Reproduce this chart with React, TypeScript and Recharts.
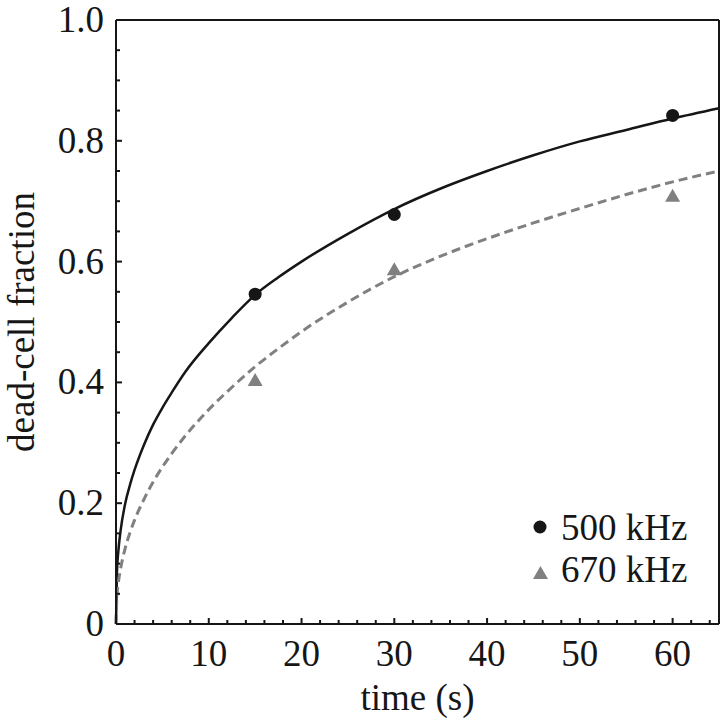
import { ComposedChart, Line, Scatter, XAxis, YAxis, Legend } from "recharts";

// fitted curves
const fitTime = [0, 0.1, 0.25, 0.5, 1, 1.5, 2, 3, 4, 5, 6, 7.5, 10, 12.5, 15, 17.5, 20, 25, 30, 35, 40, 45, 50, 55, 60, 65];
const fit500 = [0, 0.085, 0.12, 0.155, 0.2, 0.23, 0.255, 0.296, 0.33, 0.358, 0.383, 0.418, 0.465, 0.507, 0.545, 0.574, 0.6, 0.646, 0.687, 0.721, 0.75, 0.776, 0.799, 0.818, 0.837, 0.854];
const fit670 = [0, 0.045, 0.068, 0.092, 0.126, 0.151, 0.172, 0.206, 0.235, 0.26, 0.282, 0.312, 0.355, 0.392, 0.426, 0.456, 0.484, 0.533, 0.575, 0.609, 0.638, 0.664, 0.688, 0.711, 0.732, 0.75];

// measured points
const sampleTime = [15, 30, 60];
const measured500 = [0.546, 0.678, 0.842];
const measured670 = [0.405, 0.588, 0.71];
const seriesNames = ["500 kHz", "670 kHz"];

const xTicks = [0, 2, 4, 6, 8, 10, 12, 14, 16, 18, 20, 22, 24, 26, 28, 30, 32, 34, 36, 38, 40, 42, 44, 46, 48, 50, 52, 54, 56, 58, 60, 62, 64];
const yTicks = [0, 0.05, 0.1, 0.15, 0.2, 0.25, 0.3, 0.35, 0.4, 0.45, 0.5, 0.55, 0.6, 0.65, 0.7, 0.75, 0.8, 0.85, 0.9, 0.95, 1];

const INK = "#161616";
const GREY = "#808080";
const FONT = "'Liberation Serif', 'DejaVu Serif', serif";
const FS = 37;

const curve500 = fitTime.map((t, i) => ({ t, v: fit500[i] }));
const curve670 = fitTime.map((t, i) => ({ t, v: fit670[i] }));
const points500 = sampleTime.map((t, i) => ({ t, v: measured500[i] }));
const points670 = sampleTime.map((t, i) => ({ t, v: measured670[i] }));

const isMajor = (v: number, step: number) => Math.abs(v / step - Math.round(v / step)) < 1e-6;

const drawCircle = (cx: number, cy: number) => <circle cx={cx} cy={cy} r={6.5} fill={INK} />;
const drawTriangle = (cx: number, cy: number) => (
  <polygon points={`${cx},${cy - 6.5} ${cx - 7.5},${cy + 6.5} ${cx + 7.5},${cy + 6.5}`} fill={GREY} />
);

const BottomTick = ({ x, y, payload }: any) => {
  const major = isMajor(payload.value, 10);
  return (
    <g>
      <line x1={x} x2={x} y1={y} y2={y - (major ? 6 : 4)} stroke={INK} strokeWidth={2} />
      {major && (
        <text x={x} y={y + 42} textAnchor="middle" fontSize={FS} fontFamily={FONT} fill={INK}>
          {payload.value}
        </text>
      )}
    </g>
  );
};

const TopTick = ({ x, y, payload }: any) => {
  const major = isMajor(payload.value, 10);
  return <line x1={x} x2={x} y1={y} y2={y + (major ? 6 : 4)} stroke={INK} strokeWidth={2} />;
};

const LeftTick = ({ x, y, payload }: any) => {
  const major = isMajor(payload.value, 0.2);
  return (
    <g>
      <line x1={x} x2={x + (major ? 6 : 4)} y1={y} y2={y} stroke={INK} strokeWidth={2} />
      {major && (
        <text x={x - 12} y={y + 12} textAnchor="end" fontSize={FS} fontFamily={FONT} fill={INK}>
          {payload.value === 0 ? "0" : payload.value.toFixed(1)}
        </text>
      )}
    </g>
  );
};

const RightTick = ({ x, y, payload }: any) => {
  const major = isMajor(payload.value, 0.2);
  return <line x1={x} x2={x - (major ? 6 : 4)} y1={y} y2={y} stroke={INK} strokeWidth={2} />;
};

// only the two measured series go in the key; the fit lines stay out
const renderLegend = ({ payload }: any) => {
  const items = (payload || []).filter((entry: any) => seriesNames.includes(entry.value));
  return (
    <svg width={195} height={110}>
      {items.map((entry: any) => {
        const i = seriesNames.indexOf(entry.value);
        const base = 40 + i * 42;
        return (
          <g key={entry.value}>
            {i === 0 ? drawCircle(20, base - 13) : drawTriangle(20.5, base - 9.5)}
            <text x={41} y={base} fontSize={FS} fontFamily={FONT} fill={INK}>
              {entry.value}
            </text>
          </g>
        );
      })}
    </svg>
  );
};

const axisLine = { stroke: INK, strokeWidth: 2 };

export default function App() {
  return (
    <div style={{ width: 722, height: 721 }}>
      <style>{"body{margin:0}"}</style>
      <ComposedChart width={722} height={721} margin={{ top: 0, right: 0, bottom: 0, left: 0 }}>
        <XAxis
          xAxisId="x"
          type="number"
          dataKey="t"
          domain={[0, 65]}
          ticks={xTicks}
          interval={0}
          height={97}
          tickSize={0}
          tickMargin={0}
          tickLine={false}
          axisLine={axisLine}
          tick={BottomTick}
          label={{ value: "time (s)", position: "insideBottom", offset: 11, fontSize: FS, fontFamily: FONT, fill: INK }}
        />
        <XAxis
          xAxisId="top"
          orientation="top"
          type="number"
          domain={[0, 65]}
          ticks={xTicks}
          interval={0}
          height={20}
          tickSize={0}
          tickMargin={0}
          tickLine={false}
          axisLine={axisLine}
          tick={TopTick}
        />
        <YAxis
          yAxisId="y"
          type="number"
          dataKey="v"
          domain={[0, 1]}
          ticks={yTicks}
          interval={0}
          width={116}
          tickSize={0}
          tickMargin={0}
          tickLine={false}
          axisLine={axisLine}
          tick={LeftTick}
          label={{
            value: "dead-cell fraction",
            angle: -90,
            position: "insideLeft",
            offset: 21,
            fontSize: FS,
            fontFamily: FONT,
            fill: INK,
            style: { textAnchor: "middle" },
          }}
        />
        <YAxis
          yAxisId="right"
          orientation="right"
          type="number"
          domain={[0, 1]}
          ticks={yTicks}
          interval={0}
          width={3}
          tickSize={0}
          tickMargin={0}
          tickLine={false}
          axisLine={axisLine}
          tick={RightTick}
        />
        <Line
          xAxisId="x"
          yAxisId="y"
          data={curve500}
          dataKey="v"
          type="monotone"
          stroke={INK}
          strokeWidth={2.5}
          dot={false}
          activeDot={false}
          legendType="none"
          isAnimationActive={false}
        />
        <Line
          xAxisId="x"
          yAxisId="y"
          data={curve670}
          dataKey="v"
          type="monotone"
          stroke={GREY}
          strokeWidth={3}
          strokeDasharray="9 5"
          dot={false}
          activeDot={false}
          legendType="none"
          isAnimationActive={false}
        />
        <Scatter
          xAxisId="x"
          yAxisId="y"
          name={seriesNames[0]}
          data={points500}
          dataKey="v"
          fill={INK}
          shape={(p: any) => drawCircle(p.cx, p.cy)}
          isAnimationActive={false}
        />
        <Scatter
          xAxisId="x"
          yAxisId="y"
          name={seriesNames[1]}
          data={points670}
          dataKey="v"
          fill={GREY}
          shape={(p: any) => drawTriangle(p.cx, p.cy)}
          isAnimationActive={false}
        />
        <Legend
          layout="horizontal"
          verticalAlign="middle"
          align="center"
          content={renderLegend}
          wrapperStyle={{ left: 520, top: 500, width: 195, height: 110 }}
        />
      </ComposedChart>
    </div>
  );
}
